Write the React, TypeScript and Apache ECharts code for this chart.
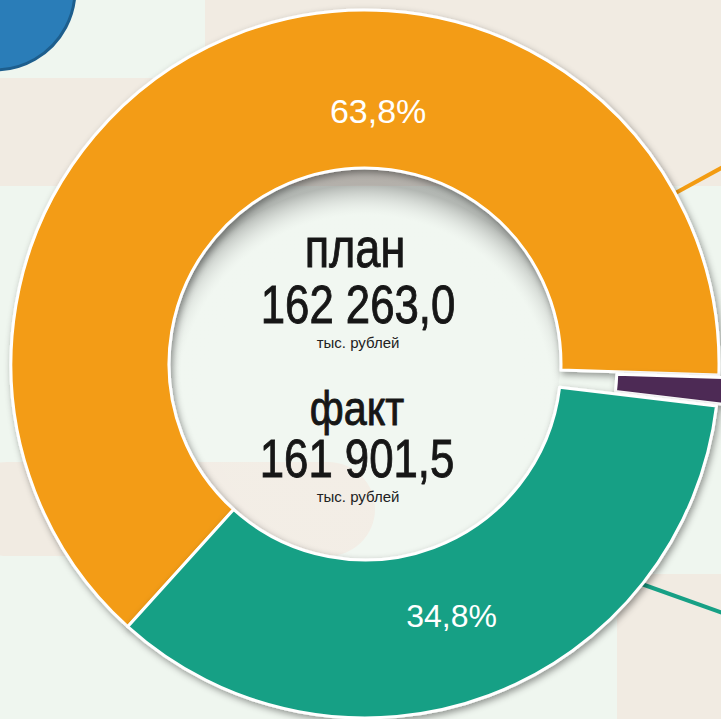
import React, { useEffect, useRef } from "react";
import * as echarts from "echarts";

const categories = ["Категория 1", "Категория 2", "Категория 3"];
const shares = [63.8, 1.4, 34.8];
const sliceColors = ["#f39c12", "#4e2a55", "#17a085"];
const explodedIndex = 1;
const planLabel = "план";
const planValue = "162 263,0";
const factLabel = "факт";
const factValue = "161 901,5";
const unitLabel = "тыс. рублей";

const FONT = "'Liberation Sans', Arial, sans-serif";
const BEIGE = "#f1ebe2";
const GREEN = "#eff6ef";
const INK = "#161616";

function bigText(text: string, x: number, y: number, size: number, sx: number) {
  return {
    type: "text", z: 3, x, y, scaleX: sx,
    style: { text, font: `${size}px ${FONT}`, fill: INK, stroke: INK, lineWidth: 0.9, align: "center", verticalAlign: "middle" },
  };
}

export default function App() {
  const ref = useRef<HTMLDivElement>(null);
  useEffect(() => {
    if (!ref.current) return;
    const chart = echarts.init(ref.current, undefined, { renderer: "svg" });
    const cx = 365;
    const cy = 364;
    const option: any = {
      animation: false,
      backgroundColor: BEIGE,
      graphic: [
        { type: "rect", z: 0, shape: { x: -40, y: -40, width: 245, height: 118, r: 30 }, style: { fill: GREEN } },
        { type: "rect", z: 0, shape: { x: -40, y: 186, width: 800, height: 388 }, style: { fill: GREEN } },
        { type: "rect", z: 0, shape: { x: -40, y: 462, width: 415, height: 94, r: 50 }, style: { fill: BEIGE } },
        { type: "rect", z: 0, shape: { x: -40, y: 556, width: 657, height: 220, r: 45 }, style: { fill: GREEN } },
        { type: "circle", z: 1, shape: { cx: -5, cy: -10, r: 80 }, style: { fill: "#2a7db8", stroke: "#1d5e8d", lineWidth: 3 } },
        { type: "line", z: 1, shape: { x1: 670, y1: 196, x2: 745, y2: 155 }, style: { stroke: sliceColors[0], lineWidth: 4 } },
        { type: "line", z: 1, shape: { x1: 636, y1: 582, x2: 745, y2: 621 }, style: { stroke: sliceColors[2], lineWidth: 4 } },
        {
          type: "circle", z: 1, shape: { cx, cy, r: 195 },
          style: {
            fill: {
              type: "radial", x: 0.5, y: 0.6, r: 0.56,
              colorStops: [
                { offset: 0, color: "rgba(255,255,255,0.15)" },
                { offset: 0.86, color: "rgba(255,255,255,0.12)" },
                { offset: 1, color: "rgba(80,80,80,0.38)" },
              ],
            },
          },
        },
        bigText(planLabel, 355, 248, 55, 0.82),
        bigText(planValue, 358, 304, 54, 0.81),
        { type: "text", z: 3, x: 358, y: 342, style: { text: unitLabel, font: `15px ${FONT}`, fill: "#222", align: "center", verticalAlign: "middle" } },
        bigText(factLabel, 357, 408, 48, 0.86),
        bigText(factValue, 357, 458, 54, 0.81),
        { type: "text", z: 3, x: 358, y: 496, style: { text: unitLabel, font: `15px ${FONT}`, fill: "#222", align: "center", verticalAlign: "middle" } },
      ],
      series: [
        {
          type: "pie",
          center: [cx, cy],
          radius: [196, 354],
          startAngle: 227.9,
          clockwise: true,
          selectedMode: "single",
          selectedOffset: 56,
          avoidLabelOverlap: false,
          itemStyle: {
            borderColor: "#ffffff",
            borderWidth: 3,
            shadowBlur: 7,
            shadowColor: "rgba(0,0,0,0.4)",
            shadowOffsetX: 2,
            shadowOffsetY: 3,
          },
          label: {
            show: true,
            position: "inside",
            color: "#ffffff",
            fontFamily: FONT,
            fontSize: 34,
            formatter: (p: any) => p.value.toFixed(1).replace(".", ",") + "%",
          },
          labelLine: { show: false },
          labelLayout: (p: any) => (p.dataIndex === 0 ? { dx: 122, dy: 3 } : p.dataIndex === 2 ? { dx: -11, dy: -8 } : {}),
          emphasis: { disabled: true },
          data: shares.map((v, i) => ({
            name: categories[i],
            value: v,
            selected: i === explodedIndex,
            itemStyle: { color: sliceColors[i] },
            label: i === explodedIndex ? { show: false } : i === 2 ? { fontSize: 32 } : {},
          })),
        },
      ],
    };
    chart.setOption(option);
    return () => chart.dispose();
  }, []);
  return <div ref={ref} style={{ position: "fixed", left: 0, top: 0, width: 721, height: 719 }} />;
}
